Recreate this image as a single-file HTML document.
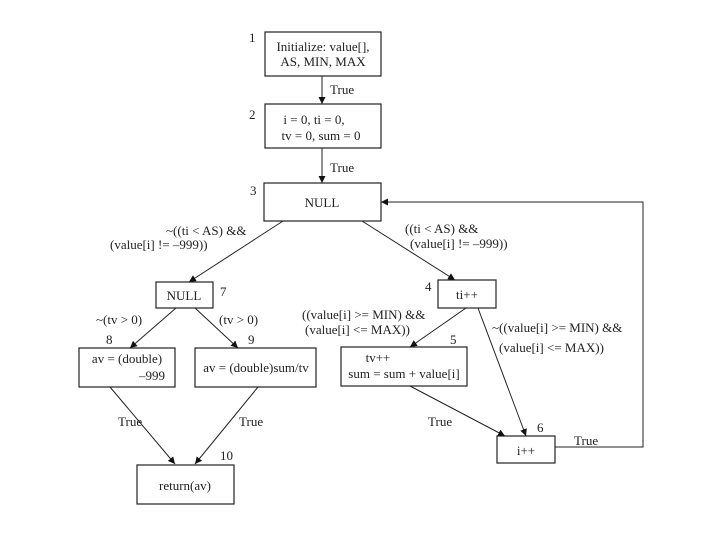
<!DOCTYPE html>
<html><head><meta charset="utf-8"><style>
body{margin:0;background:#fff;}
svg text{font-family:"Liberation Serif",serif;font-size:13px;fill:#222;}
</style></head><body>
<svg width="720" height="540" viewBox="0 0 720 540" xmlns="http://www.w3.org/2000/svg">
<defs><marker id="a" viewBox="0 0 10 10" refX="10" refY="5" markerWidth="7" markerHeight="7" orient="auto"><path d="M0,0L10,5L0,10z" fill="#111"/></marker></defs>
<g fill="none" stroke="#222" stroke-width="1.2">
<rect x="265" y="32" width="116" height="44"/>
<rect x="265" y="104" width="116" height="44"/>
<rect x="264" y="183" width="117" height="38"/>
<rect x="156" y="282" width="57" height="26"/>
<rect x="79" y="348" width="96" height="39"/>
<rect x="195" y="348" width="121" height="39"/>
<rect x="438" y="280" width="58" height="28"/>
<rect x="341" y="347" width="126" height="39"/>
<rect x="497" y="436" width="58" height="27"/>
<rect x="137" y="465" width="97" height="39"/>
</g>
<g stroke="#222" stroke-width="1" marker-end="url(#a)">
<line x1="322" y1="76" x2="322" y2="104"/>
<line x1="322" y1="148" x2="322" y2="183"/>
<line x1="283" y1="221" x2="189" y2="282"/>
<line x1="362" y1="221" x2="455" y2="280"/>
<line x1="176" y1="308" x2="130" y2="348"/>
<line x1="195" y1="308" x2="238" y2="348"/>
<line x1="466" y1="308" x2="410" y2="347"/>
<line x1="478" y1="308" x2="526" y2="436"/>
<line x1="410" y1="386" x2="505" y2="436"/>
<line x1="110" y1="387" x2="175" y2="464"/>
<line x1="258" y1="387" x2="195" y2="464"/>
<polyline points="555,447 643,447 643,202 381,202" fill="none"/>
</g>
<g text-anchor="middle">
<text x="323" y="51">Initialize: value[],</text>
<text x="323" y="66">AS, MIN, MAX</text>
<text x="314" y="124" text-anchor="middle">i = 0, ti = 0,</text>
<text x="321" y="140">tv = 0, sum = 0</text>
<text x="322" y="207">NULL</text>
<text x="184" y="300">NULL</text>
<text x="127" y="363">av = (double)</text>
<text x="152" y="380">–999</text>
<text x="256" y="372">av = (double)sum/tv</text>
<text x="467" y="299">ti++</text>
<text x="378" y="362">tv++</text>
<text x="404" y="378">sum = sum + value[i]</text>
<text x="526" y="455">i++</text>
<text x="185" y="490">return(av)</text>
</g>
<text x="249" y="42">1</text>
<text x="249" y="119">2</text>
<text x="250" y="195">3</text>
<text x="220" y="296">7</text>
<text x="106" y="344">8</text>
<text x="248" y="344">9</text>
<text x="425" y="291">4</text>
<text x="450" y="344">5</text>
<text x="537" y="432">6</text>
<text x="220" y="460">10</text>
<text x="330" y="94">True</text>
<text x="330" y="172">True</text>
<text x="166" y="235">~((ti &lt; AS) &amp;&amp;</text>
<text x="110" y="249">(value[i] != –999))</text>
<text x="405" y="233">((ti &lt; AS) &amp;&amp;</text>
<text x="410" y="248">(value[i] != –999))</text>
<text x="96" y="324">~(tv &gt; 0)</text>
<text x="219" y="324">(tv &gt; 0)</text>
<text x="302" y="319">((value[i] &gt;= MIN) &amp;&amp;</text>
<text x="305" y="334">(value[i] &lt;= MAX))</text>
<text x="492" y="332">~((value[i] &gt;= MIN) &amp;&amp;</text>
<text x="499" y="352">(value[i] &lt;= MAX))</text>
<text x="428" y="426">True</text>
<text x="574" y="445">True</text>
<text x="118" y="426">True</text>
<text x="239" y="426">True</text>
</svg>
</body></html>
